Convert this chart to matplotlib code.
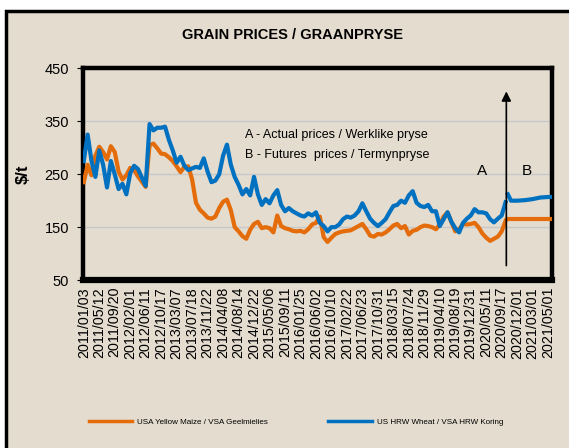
import numpy as np
import matplotlib
matplotlib.use("Agg")
import matplotlib.pyplot as plt
from matplotlib.patches import Rectangle
from matplotlib.lines import Line2D

# ---------------- data ----------------
tick_labels = ["2011/01/03", "2011/05/12", "2011/09/20", "2012/02/01", "2012/06/11",
               "2012/10/17", "2013/03/07", "2013/07/18", "2013/11/22", "2014/04/08",
               "2014/08/14", "2014/12/22", "2015/05/06", "2015/09/11", "2016/01/25",
               "2016/06/02", "2016/10/10", "2017/02/22", "2017/06/23", "2017/10/31",
               "2018/03/15", "2018/07/24", "2018/11/29", "2019/04/10", "2019/08/19",
               "2019/12/31", "2020/05/11", "2020/09/17", "2020/12/01", "2021/03/01",
               "2021/05/01"]

# actual prices, 4 observations per tick interval
wheat_actual = [275, 325, 275, 245, 295, 268, 225, 275, 250, 222, 232, 212,
                252, 266, 260, 244, 228, 345, 333, 338, 338, 340, 315, 295,
                272, 283, 266, 258, 261, 264, 262, 280, 255, 235, 238, 250,
                285, 306, 268, 245, 230, 212, 222, 210, 245, 212, 192, 203,
                195, 210, 220, 192, 180, 186, 180, 176, 172, 170, 176, 172,
                178, 158, 152, 142, 150, 150, 155, 165, 170, 168, 172, 180,
                195, 180, 166, 158, 152, 158, 165, 178, 190, 192, 200, 196,
                210, 218, 196, 190, 188, 192, 180, 180, 152, 165, 178, 160,
                148, 140, 158, 166, 172, 184, 178, 178, 176, 165, 159, 166,
                172, 197]
maize_actual = [235, 268, 248, 285, 302, 292, 278, 303, 292, 255, 240, 248,
                262, 258, 246, 236, 226, 305, 308, 299, 289, 288, 282, 275,
                265, 254, 264, 265, 240, 196, 183, 176, 168, 166, 170, 186,
                198, 202, 182, 150, 142, 133, 128, 145, 156, 160, 148, 150,
                148, 140, 172, 152, 148, 146, 143, 142, 143, 140, 146, 155,
                158, 170, 131, 122, 130, 137, 140, 142, 143, 144, 148, 152,
                156, 146, 134, 132, 137, 136, 140, 146, 153, 156, 148, 152,
                136, 143, 145, 150, 153, 152, 150, 146, 155, 170, 178, 160,
                142, 146, 156, 155, 156, 158, 150, 138, 130, 124, 128, 132,
                142, 162]

# futures prices (position in tick-interval units)
futures_pos = [27.4, 27.6, 28.0, 28.5, 29.0, 29.5, 30.0, 30.3]
wheat_futures = [212, 200, 200, 201, 203, 206, 207, 207]
maize_futures = [165, 165, 165, 165, 165, 165, 165, 165]

arrow_pos = 27.3

# ---------------- figure ----------------
W, H = 569, 448
fig = plt.figure(figsize=(W / 100, H / 100), dpi=100, facecolor="white")
font = "Liberation Sans"
plt.rcParams["font.family"] = font

bg = "#E3DCCF"
top = 1 - 11 / H
fig.patches.append(Rectangle((6 / W, -0.2), 1.3, top + 0.2,
                             transform=fig.transFigure, facecolor=bg,
                             edgecolor="black", linewidth=2.5, zorder=-10))

ax = fig.add_axes([83 / W, 1 - 280 / H, 469 / W, (280 - 68.5) / H])
ax.set_facecolor(bg)

orange = "#E46C0A"
blue = "#0070C0"

x_act = np.arange(len(wheat_actual)) / 4.0
ax.plot(x_act, maize_actual, color=orange, lw=3.0, solid_joinstyle="round", zorder=3)
ax.plot(futures_pos, maize_futures, color=orange, lw=3.0, zorder=3)
ax.plot(x_act, wheat_actual, color=blue, lw=3.0, solid_joinstyle="round", zorder=4)
ax.plot(futures_pos, wheat_futures, color=blue, lw=3.0, zorder=4)

ax.set_ylim(50, 450)
ax.set_xlim(-0.05, 30.25)
ax.set_yticks([50, 150, 250, 350, 450])
ax.set_xticks(np.arange(len(tick_labels)))
ax.set_xticklabels(tick_labels, rotation=90, fontsize=10.3)
for lbl in ax.get_yticklabels():
    lbl.set_fontsize(10.5)
ax.tick_params(axis="x", length=0, pad=5)
ax.tick_params(axis="y", length=4, width=0.8, pad=6, direction="out")
for y in (150, 250, 350):
    ax.axhline(y, color="#C8C8C8", lw=1.0, zorder=1)
for s in ax.spines.values():
    s.set_linewidth(3.2)
    s.set_color("black")
ax.spines["bottom"].set_linewidth(4.5)

ax.set_ylabel("$/t", fontsize=12, fontweight="bold", labelpad=10)

# arrow
ax.annotate("", xy=(arrow_pos, 412), xytext=(arrow_pos, 72),
            arrowprops=dict(arrowstyle="-|>", color="black", lw=1.2,
                            mutation_scale=14), zorder=5)
ax.text(25.7, 256, "A", fontsize=11, ha="center", va="center")
ax.text(28.6, 256, "B", fontsize=11, ha="center", va="center")
ax.text(10.4, 324, "A - Actual prices / Werklike pryse", fontsize=9,
        ha="left", va="center")
ax.text(10.4, 286, "B - Futures  prices / Termynpryse", fontsize=9,
        ha="left", va="center")

fig.text(292 / W, 1 - 35 / H, "GRAIN PRICES / GRAANPRYSE", fontsize=10.5,
         fontweight="bold", ha="center", va="center")

# legend
handles = [Line2D([], [], color=orange, lw=2.5), Line2D([], [], color=blue, lw=2.5)]
leg = fig.legend(handles, ["USA Yellow Maize / VSA Geelmielies",
                           "US HRW Wheat / VSA HRW Koring"],
                 loc="center", bbox_to_anchor=(296 / W, 1 - 422 / H), ncol=2,
                 frameon=False, prop={"size": 5.8},
                 handlelength=5.4, columnspacing=7.5, handletextpad=0.6)

fig.savefig("out.png", dpi=100, facecolor="white")
